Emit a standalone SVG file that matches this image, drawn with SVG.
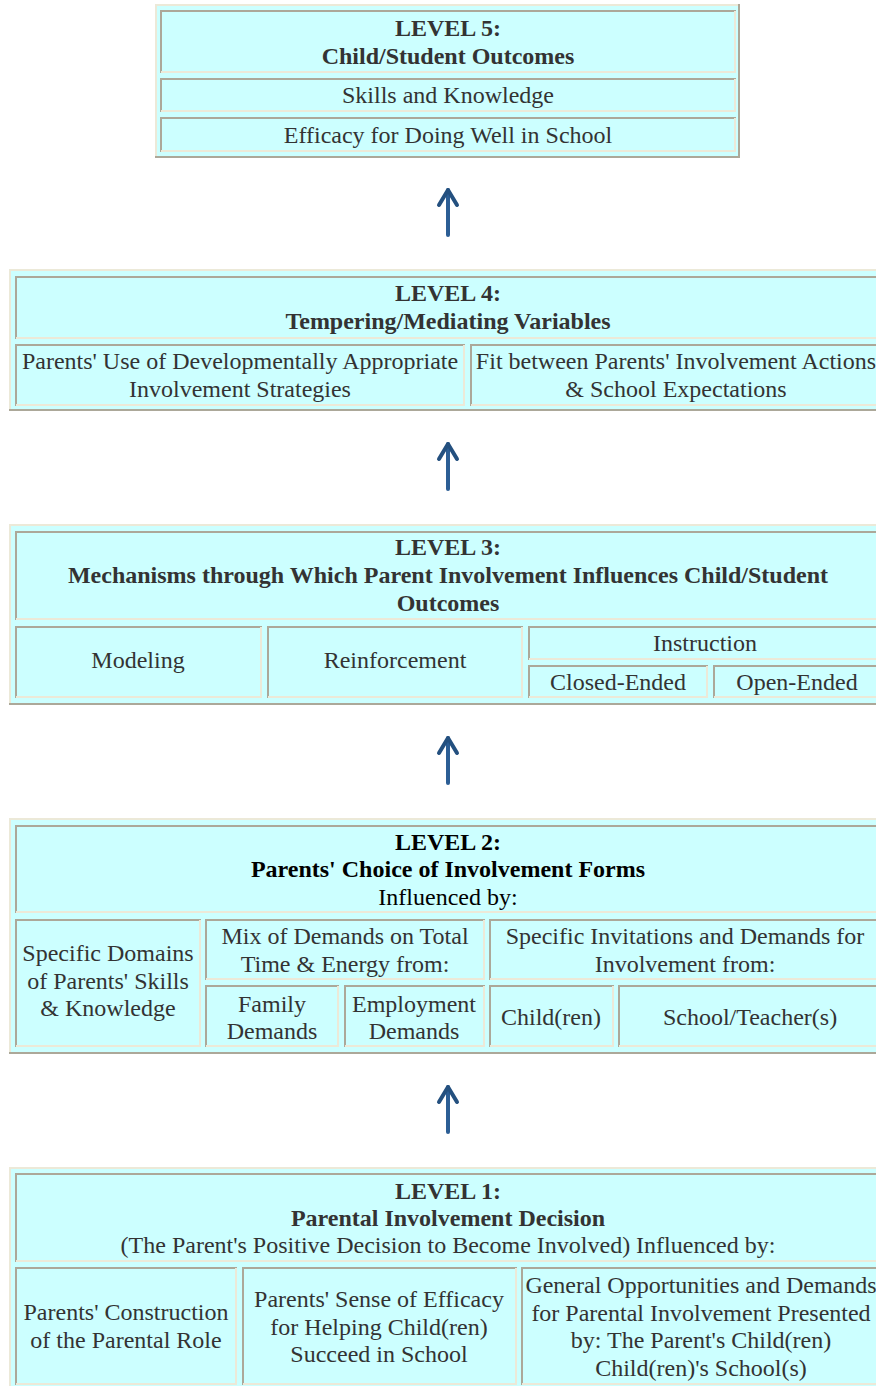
<svg xmlns="http://www.w3.org/2000/svg" width="876" height="1386" viewBox="0 0 876 1386">
<style>
.fill{fill:#CCFFFF}
.lt{stroke:#ECE9D8;stroke-width:2;fill:none}
.dk{stroke:#ACA899;stroke-width:2;fill:none}
.t{font-family:"Liberation Serif","Times New Roman",serif;font-size:24px;fill:#333;text-anchor:middle}
.b{font-weight:bold}
.k{fill:#000}
.arr{stroke:#2c5e95;stroke-width:4;fill:none;stroke-linecap:round}
</style>
<defs>
<marker id="head" markerUnits="userSpaceOnUse" markerWidth="1" markerHeight="1" refX="0" refY="0" orient="auto" overflow="visible">
<path d="M-15,-9L0,0L-15,9" fill="none" stroke="#24507f" stroke-width="4" stroke-linejoin="round" stroke-linecap="round"/>
</marker>
</defs>
<rect width="876" height="1386" fill="#fff"/>

<g id="level5">
<rect x="155" y="4" width="585" height="154" class="fill"/>
<path class="lt" d="M156,158V5H740"/><path class="dk" d="M739,4V157H155"/>
<path class="dk" d="M161,73V11H736"/><path class="lt" d="M735,11V72H161"/>
<path class="dk" d="M161,112V79H736"/><path class="lt" d="M735,79V111H161"/>
<path class="dk" d="M161,152V118H736"/><path class="lt" d="M735,118V151H161"/>
<text class="t b" x="448" y="36">LEVEL 5:</text>
<text class="t b" x="448" y="64">Child/Student Outcomes</text>
<text class="t" x="448" y="103">Skills and Knowledge</text>
<text class="t" x="448" y="143">Efficacy for Doing Well in School</text>
</g>

<g id="level4">
<rect x="9" y="269" width="881" height="142" class="fill"/>
<path class="lt" d="M10,411V270H890"/><path class="dk" d="M889,270V410H9"/>
<path class="dk" d="M16,339V277H882"/><path class="lt" d="M881,277V338H16"/>
<path class="dk" d="M16,406V345H465"/><path class="lt" d="M464,345V405H16"/>
<path class="dk" d="M471,406V345H882"/><path class="lt" d="M881,345V405H471"/>
<text class="t b" x="448" y="301">LEVEL 4:</text>
<text class="t b" x="448" y="329">Tempering/Mediating Variables</text>
<text class="t" x="240" y="369">Parents' Use of Developmentally Appropriate</text>
<text class="t" x="240" y="397">Involvement Strategies</text>
<text class="t" x="676" y="369">Fit between Parents' Involvement Actions</text>
<text class="t" x="676" y="397">&amp; School Expectations</text>
</g>

<g id="level3">
<rect x="9" y="524" width="881" height="181" class="fill"/>
<path class="lt" d="M10,705V525H890"/><path class="dk" d="M889,525V704H9"/>
<path class="dk" d="M16,620V532H882"/><path class="lt" d="M881,532V619H16"/>
<path class="dk" d="M16,698V627H262"/><path class="lt" d="M261,627V697H16"/>
<path class="dk" d="M268,698V627H523"/><path class="lt" d="M522,627V697H268"/>
<path class="dk" d="M529,660V627H882"/><path class="lt" d="M881,627V659H529"/>
<path class="dk" d="M529,698V666H708"/><path class="lt" d="M707,666V697H529"/>
<path class="dk" d="M714,698V666H882"/><path class="lt" d="M881,666V697H714"/>
<text class="t b" x="448" y="555">LEVEL 3:</text>
<text class="t b" x="448" y="583">Mechanisms through Which Parent Involvement Influences Child/Student</text>
<text class="t b" x="448" y="611">Outcomes</text>
<text class="t" x="138" y="668">Modeling</text>
<text class="t" x="395" y="668">Reinforcement</text>
<text class="t" x="705" y="651">Instruction</text>
<text class="t" x="618" y="690">Closed-Ended</text>
<text class="t" x="797" y="690">Open-Ended</text>
</g>

<g id="level2">
<rect x="9" y="818" width="881" height="236" class="fill"/>
<path class="lt" d="M10,1054V819H890"/><path class="dk" d="M889,819V1053H9"/>
<path class="dk" d="M16,913V826H882"/><path class="lt" d="M881,826V912H16"/>
<path class="dk" d="M16,1047V920H201"/><path class="lt" d="M200,920V1046H16"/>
<path class="dk" d="M206,980V920H485"/><path class="lt" d="M484,920V979H206"/>
<path class="dk" d="M206,1047V986H339"/><path class="lt" d="M338,986V1046H206"/>
<path class="dk" d="M345,1047V986H485"/><path class="lt" d="M484,986V1046H345"/>
<path class="dk" d="M490,980V920H882"/><path class="lt" d="M881,920V979H490"/>
<path class="dk" d="M490,1047V986H614"/><path class="lt" d="M613,986V1046H490"/>
<path class="dk" d="M619,1047V986H882"/><path class="lt" d="M881,986V1046H619"/>
<text class="t b k" x="448" y="850">LEVEL 2:</text>
<text class="t b k" x="448" y="877">Parents' Choice of Involvement Forms</text>
<text class="t k" x="448" y="905">Influenced by:</text>
<text class="t" x="108" y="961">Specific Domains</text>
<text class="t" x="108" y="989">of Parents' Skills</text>
<text class="t" x="108" y="1016">&amp; Knowledge</text>
<text class="t" x="345" y="944">Mix of Demands on Total</text>
<text class="t" x="345" y="972">Time &amp; Energy from:</text>
<text class="t" x="272" y="1012">Family</text>
<text class="t" x="272" y="1039">Demands</text>
<text class="t" x="414" y="1012">Employment</text>
<text class="t" x="414" y="1039">Demands</text>
<text class="t" x="685" y="944">Specific Invitations and Demands for</text>
<text class="t" x="685" y="972">Involvement from:</text>
<text class="t" x="551" y="1025">Child(ren)</text>
<text class="t" x="750" y="1025">School/Teacher(s)</text>
</g>

<g id="level1">
<rect x="9" y="1167" width="881" height="230" class="fill"/>
<path class="lt" d="M10,1400V1168H890"/>
<path class="dk" d="M16,1262V1174H882"/><path class="lt" d="M881,1174V1261H16"/>
<path class="dk" d="M16,1385V1268H237"/><path class="lt" d="M236,1268V1384H16"/>
<path class="dk" d="M243,1385V1268H517"/><path class="lt" d="M516,1268V1384H243"/>
<path class="dk" d="M522,1385V1268H882"/><path class="lt" d="M881,1268V1384H522"/>
<text class="t b" x="448" y="1199">LEVEL 1:</text>
<text class="t b" x="448" y="1226">Parental Involvement Decision</text>
<text class="t" x="448" y="1253">(The Parent's Positive Decision to Become Involved) Influenced by:</text>
<text class="t" x="126" y="1320">Parents' Construction</text>
<text class="t" x="126" y="1348">of the Parental Role</text>
<text class="t" x="379" y="1307">Parents' Sense of Efficacy</text>
<text class="t" x="379" y="1335">for Helping Child(ren)</text>
<text class="t" x="379" y="1362">Succeed in School</text>
<text class="t" x="701" y="1293">General Opportunities and Demands</text>
<text class="t" x="701" y="1321">for Parental Involvement Presented</text>
<text class="t" x="701" y="1348">by: The Parent's Child(ren)</text>
<text class="t" x="701" y="1376">Child(ren)'s School(s)</text>
</g>

<g id="connectors">
<line class="arr" x1="448" y1="235" x2="448" y2="190" marker-end="url(#head)"/>
<line class="arr" x1="448" y1="489" x2="448" y2="444" marker-end="url(#head)"/>
<line class="arr" x1="448" y1="783" x2="448" y2="738" marker-end="url(#head)"/>
<line class="arr" x1="448" y1="1132" x2="448" y2="1087" marker-end="url(#head)"/>
</g>
</svg>
